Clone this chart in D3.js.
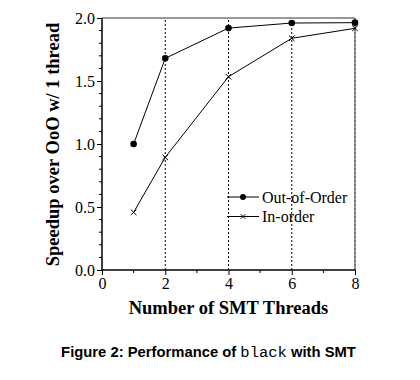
<!DOCTYPE html>
<html><head><meta charset="utf-8">
<script src="https://cdn.jsdelivr.net/npm/d3@7"></script>
<style>body{margin:0;background:#fff}svg{display:block}</style>
</head><body>
<svg id="c" width="420" height="380"></svg>
<script>
const threads = [1, 2, 4, 6, 8];
const outOfOrder = [1.0, 1.68, 1.92, 1.96, 1.963];
const inOrder = [0.458, 0.894, 1.534, 1.839, 1.918];
const xTicks = [0, 2, 4, 6, 8];
const yTicks = [0.0, 0.5, 1.0, 1.5, 2.0];
const gridX = [2, 4, 6, 8];

const svg = d3.select("#c");
const x = d3.scaleLinear().domain([0, 8]).range([102, 355]);
const y = d3.scaleLinear().domain([0, 2]).range([270, 18]);
const serif = "'Liberation Serif', 'Times New Roman', serif";

// grid
svg.append("g").selectAll("line").data(gridX).join("line")
  .attr("x1", d => x(d)).attr("x2", d => x(d))
  .attr("y1", y(0)).attr("y2", y(2))
  .attr("stroke", "#000").attr("stroke-width", 1).attr("stroke-dasharray", "2,2");

// top & right border
svg.append("line").attr("x1", x(0)).attr("x2", x(8)).attr("y1", y(2)).attr("y2", y(2))
  .attr("stroke", "#777").attr("stroke-width", 1.5);
svg.append("line").attr("x1", x(8)).attr("x2", x(8)).attr("y1", y(2)).attr("y2", y(0))
  .attr("stroke", "#777").attr("stroke-width", 1.5);

// axes
const xAxis = d3.axisBottom(x).tickValues(xTicks).tickFormat(d3.format("d")).tickSize(5).tickPadding(3);
const gx = svg.append("g").attr("transform", `translate(0,${y(0)})`).call(xAxis);
gx.append("g").selectAll("line").data([1,3,5,7]).join("line")
  .attr("x1", d => x(d)).attr("x2", d => x(d)).attr("y1", 0).attr("y2", 3).attr("stroke", "#000");
const yAxis = d3.axisLeft(y).tickValues(yTicks).tickFormat(d3.format(".1f")).tickSize(5).tickPadding(2);
const gy = svg.append("g").attr("transform", `translate(${x(0)},0)`).call(yAxis);
gy.append("g").selectAll("line").data(d3.range(0, 20).map(i => i / 10).filter(v => Math.round(v * 10) % 5 !== 0)).join("line")
  .attr("x1", -3).attr("x2", 0).attr("y1", d => y(d)).attr("y2", d => y(d)).attr("stroke", "#000");
[gx, gy].forEach(g => {
  g.select(".domain").attr("stroke", "#000").attr("stroke-width", 1.5);
  g.selectAll("text").attr("font-family", serif).attr("font-size", 16).attr("fill", "#000");
});
gx.select(".domain").attr("d", `M${x(0)},0H${x(8)}`);
gy.select(".domain").attr("d", `M0,${y(0)}V${y(2)}`);

// lines
const line = d3.line().x(d => x(d[0])).y(d => y(d[1]));
const ooo = threads.map((t, i) => [t, outOfOrder[i]]);
const ino = threads.map((t, i) => [t, inOrder[i]]);
svg.append("path").attr("d", line(ooo)).attr("fill", "none").attr("stroke", "#000").attr("stroke-width", 1);
svg.append("path").attr("d", line(ino)).attr("fill", "none").attr("stroke", "#000").attr("stroke-width", 1);
svg.append("g").selectAll("circle").data(ooo).join("circle")
  .attr("cx", d => x(d[0])).attr("cy", d => y(d[1])).attr("r", 3.3).attr("fill", "#000");
const cross = (g, cx, cy, s) => g.append("path")
  .attr("d", `M${cx-s},${cy-s}L${cx+s},${cy+s}M${cx-s},${cy+s}L${cx+s},${cy-s}`)
  .attr("stroke", "#000").attr("stroke-width", 1);
const gc = svg.append("g");
ino.forEach(d => cross(gc, x(d[0]), y(d[1]), 2.8));

// legend
const lg = svg.append("g");
const legendItems = ["Out-of-Order", "In-order"];
legendItems.forEach((name, i) => {
  const ly = 197 + i * 19.5;
  lg.append("line").attr("x1", 227).attr("x2", 259).attr("y1", ly).attr("y2", ly).attr("stroke", "#000");
  if (i === 0) lg.append("circle").attr("cx", 243).attr("cy", ly).attr("r", 3).attr("fill", "#000");
  else cross(lg, 243, ly, 2.3);
  lg.append("text").attr("x", 262).attr("y", ly + 5.5).attr("font-family", serif).attr("font-size", 16).text(name);
});

// axis titles
svg.append("text").attr("x", 228.5).attr("y", 314).attr("text-anchor", "middle")
  .attr("font-family", serif).attr("font-weight", "bold").attr("font-size", 18.5).text("Number of SMT Threads");
svg.append("text").attr("transform", "translate(59,144.5) rotate(-90)").attr("text-anchor", "middle")
  .attr("font-family", serif).attr("font-weight", "bold").attr("font-size", 18.5).text("Speedup over OoO w/ 1 thread");

// caption
const cap = svg.append("text").attr("x", 208.5).attr("y", 356.5).attr("text-anchor", "middle")
  .attr("font-family", "'Liberation Sans', Arial, sans-serif").attr("font-weight", "bold").attr("font-size", 14.8);
cap.append("tspan").text("Figure 2: Performance of ");
cap.append("tspan").attr("font-family", "'Liberation Mono', monospace").attr("font-weight", "normal").attr("font-size", 15.5).text("black");
cap.append("tspan").text(" with SMT");
</script>
</body></html>
